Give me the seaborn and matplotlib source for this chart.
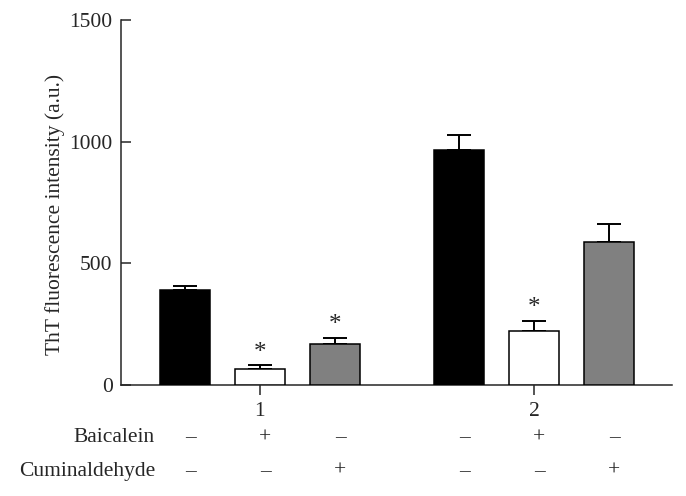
import matplotlib
matplotlib.use("Agg")
import matplotlib.pyplot as plt
import matplotlib.transforms as mtransforms
import numpy as np
import pandas as pd
import seaborn as sns

# data
groups = ["1", "2"]
treatments = ["control", "baicalein", "cuminaldehyde"]
means_g1 = [389, 64, 168]
means_g2 = [966, 223, 589]
errs_g1 = [18, 18, 27]
errs_g2 = [63, 41, 72]
significant_g1 = [False, True, True]
significant_g2 = [False, True, False]
baicalein_signs = ["–", "+", "–"]
cuminaldehyde_signs = ["–", "–", "+"]
bar_colors = ["#000000", "#ffffff", "#808080"]

FS = 15.5

df = pd.DataFrame({
    "group": [g for g in groups for _ in treatments],
    "treatment": treatments * len(groups),
    "value": means_g1 + means_g2,
    "err": errs_g1 + errs_g2,
    "sig": significant_g1 + significant_g2,
    "baicalein": baicalein_signs * len(groups),
    "cuminaldehyde": cuminaldehyde_signs * len(groups),
})

sns.set_style("ticks")
plt.rcParams["font.family"] = ["Liberation Serif", "DejaVu Serif"]
plt.rcParams["font.size"] = FS

fig = plt.figure(figsize=(6.86, 4.96), dpi=100)
ax = fig.add_axes([121 / 686, 1 - 385 / 496, 551 / 686, 365 / 496])

sns.barplot(
    data=df, x="group", y="value", hue="treatment",
    order=groups, hue_order=treatments, palette=bar_colors,
    width=0.82, gap=0.33, errorbar=None, edgecolor="black",
    linewidth=1.1, legend=False, ax=ax, zorder=3,
)

# one-sided error bars + significance stars, positioned from the drawn bars
trans_x = mtransforms.blended_transform_factory(ax.transData, ax.transAxes)
for level, cont in zip(treatments, ax.containers):
    sub = df[df["treatment"] == level].set_index("group").loc[groups]
    for patch, (g, row) in zip(cont.patches, sub.iterrows()):
        cx = patch.get_x() + patch.get_width() / 2
        ax.errorbar(cx, row["value"], yerr=[[0], [row["err"]]], fmt="none",
                    ecolor="black", elinewidth=1.4, capsize=8.5,
                    capthick=1.4, zorder=2)
        if row["sig"]:
            ax.annotate("*", (cx, row["value"] + row["err"]),
                        xytext=(0, 1), textcoords="offset points",
                        ha="center", va="bottom", fontsize=18)
        ax.text(cx + 0.02, -0.145, row["baicalein"], transform=trans_x,
                ha="center", va="center", fontsize=FS)
        ax.text(cx + 0.02, -0.236, row["cuminaldehyde"], transform=trans_x,
                ha="center", va="center", fontsize=FS)

ax.text(-0.383, -0.145, "Baicalein", transform=trans_x,
        ha="right", va="center", fontsize=FS)
ax.text(-0.383, -0.236, "Cuminaldehyde", transform=trans_x,
        ha="right", va="center", fontsize=FS)

ax.set_xlim(-0.507, 1.504)
ax.set_ylim(0, 1500)
ax.set_yticks([0, 500, 1000, 1500])
ax.set_xlabel("")
ax.set_ylabel("ThT fluorescence intensity (a.u.)", fontsize=FS,
              labelpad=3, y=0.468)
ax.tick_params(axis="y", direction="in", length=7, width=1.1, pad=6,
               labelsize=FS)
ax.tick_params(axis="x", direction="out", length=7, width=1.1, pad=5,
               labelsize=FS)
sns.despine(ax=ax)
for side in ["left", "bottom"]:
    ax.spines[side].set_linewidth(1.1)
ax.spines["left"].set_zorder(5)

fig.savefig("out.png", dpi=100)
